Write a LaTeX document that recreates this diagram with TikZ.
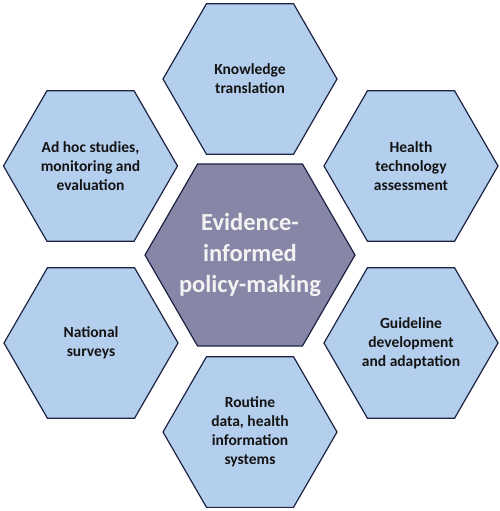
\documentclass[tikz,border=0pt]{standalone}
\usepackage{fontspec}
\setmainfont{Carlito}
\definecolor{hexfill}{RGB}{180,207,237}
\definecolor{hexline}{RGB}{28,34,66}
\definecolor{midfill}{RGB}{136,134,166}
\definecolor{txt}{RGB}{20,20,20}
\newcommand{\hexpath}[3]{%
  \draw[#3] ($(#1)+(0:#2)$) -- ($(#1)+(60:#2)$) -- ($(#1)+(120:#2)$) -- ($(#1)+(180:#2)$) -- ($(#1)+(240:#2)$) -- ($(#1)+(300:#2)$) -- cycle;}
\usetikzlibrary{calc}
\begin{document}
\begin{tikzpicture}[x=1pt,y=-1pt,
  hexshape/.style={draw=hexline, line width=1.2pt, fill=hexfill},
  midshape/.style={hexshape, fill=midfill},
  hexlabel/.style={align=center, text=txt, inner sep=0pt,
    font=\fontsize{15.5}{19}\selectfont\bfseries},
  midlabel/.style={align=center, text=white!95!black, inner sep=0pt,
    font=\fontsize{24.5}{31}\selectfont\bfseries}]
\useasboundingbox (0,0) rectangle (500,511);
\coordinate (cmid) at (250,255);
\coordinate (ckt) at (250,79);
\coordinate (cah) at (90.5,166);
\coordinate (chta) at (411,166);
\coordinate (cns) at (91,343);
\coordinate (cgd) at (411,343);
\coordinate (crd) at (250,432);
\hexpath{cmid}{105}{midshape}
\foreach \c in {ckt,cah,chta,cns,cgd,crd}{\hexpath{\c}{87}{hexshape}}
\node[midlabel] (mid) at (cmid) {Evidence-\\informed\\policy-making};
\node[hexlabel] (kt) at (ckt) {Knowledge\\translation};
\node[hexlabel] (ah) at (cah) {Ad hoc studies,\\monitoring and\\evaluation};
\node[hexlabel] (hta) at (chta) {Health\\technology\\assessment};
\node[hexlabel] (ns) at (cns) {National\\surveys};
\node[hexlabel] (gd) at (cgd) {Guideline\\development\\and adaptation};
\node[hexlabel] (rd) at (crd) {Routine\\data, health\\information\\systems};
\end{tikzpicture}
\end{document}
